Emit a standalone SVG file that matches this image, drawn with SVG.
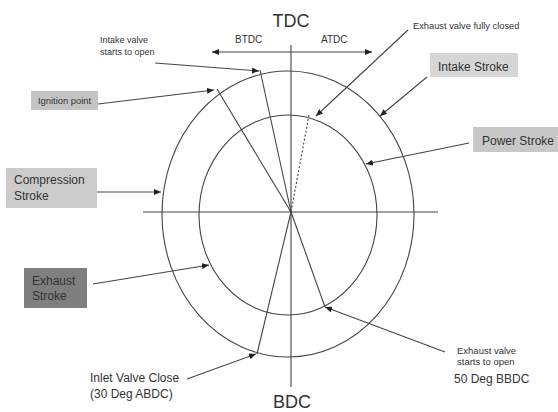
<svg xmlns="http://www.w3.org/2000/svg" width="558" height="412" viewBox="0 0 558 412">
<defs>
<marker id="ah" markerUnits="userSpaceOnUse" markerWidth="8" markerHeight="6" refX="7" refY="3" orient="auto">
<path d="M0,0 L7,3 L0,6 z" fill="#222"/>
</marker>
<marker id="ahs" markerUnits="userSpaceOnUse" markerWidth="8" markerHeight="6" refX="1" refY="3" orient="auto">
<path d="M8,0 L1,3 L8,6 z" fill="#222"/>
</marker>
<style>
.ln{stroke:#444;stroke-width:1.1;fill:none}
.ar{stroke:#444;stroke-width:1.1;fill:none;marker-end:url(#ah)}
.t{font-family:"Liberation Sans",Arial,sans-serif;fill:#333}
.box{stroke:none}
</style>
</defs>
<rect width="558" height="412" fill="#fff"/>

<g id="diagram">
<ellipse class="ln" cx="288" cy="214" rx="126" ry="143"/>
<ellipse class="ln" cx="288" cy="215" rx="89" ry="100"/>
<line class="ln" x1="143" y1="212" x2="438" y2="212"/>
<line class="ln" x1="291" y1="45" x2="291" y2="387"/>
</g>

<g id="radials">
<line class="ln" x1="260" y1="70" x2="291" y2="212"/>
<line class="ln" x1="217" y1="89" x2="291" y2="212"/>
<line class="ln" x1="291" y1="212" x2="257" y2="354"/>
<line class="ln" x1="291" y1="212" x2="325" y2="307"/>
<line class="ln" x1="309" y1="115" x2="291" y2="212" stroke-dasharray="2,2"/>
</g>

<g id="tdc">
<text class="t" x="291" y="27" font-size="18" text-anchor="middle" fill="#222">TDC</text>
<text class="t" x="235" y="43" font-size="10" fill="#444">BTDC</text>
<text class="t" x="321" y="43" font-size="10" fill="#444">ATDC</text>
<line class="ln" x1="212" y1="52" x2="372" y2="52" marker-start="url(#ahs)" marker-end="url(#ah)"/>
</g>

<g id="bdc">
<text class="t" x="292" y="408" font-size="18" text-anchor="middle" fill="#222">BDC</text>
</g>

<g id="intake-valve-open">
<text class="t" x="100" y="43" font-size="9" fill="#444">Intake valve</text>
<text class="t" x="100" y="55" font-size="9" fill="#444">starts to open</text>
</g>

<g id="exhaust-valve-closed">
<text class="t" x="413" y="29" font-size="9.3" fill="#444">Exhaust valve fully closed</text>
</g>

<g id="ignition-point">
<rect class="box" x="31" y="91" width="67" height="19" fill="#c4c4c4"/>
<text class="t" x="38" y="104" font-size="9.4" fill="#444">Ignition point</text>
</g>

<g id="intake-stroke">
<rect class="box" x="430" y="53" width="88" height="24" fill="#d6d6d6"/>
<text class="t" x="438" y="71" font-size="12" fill="#555">Intake Stroke</text>
</g>

<g id="power-stroke">
<rect class="box" x="473" y="127" width="85" height="25" fill="#c8c8c8"/>
<text class="t" x="482" y="145" font-size="12" fill="#555">Power Stroke</text>
</g>

<g id="compression-stroke">
<rect class="box" x="6" y="168" width="91" height="40" fill="#cbcbcb"/>
<text class="t" x="14" y="184" font-size="12" fill="#666">Compression</text>
<text class="t" x="14" y="200" font-size="12" fill="#666">Stroke</text>
</g>

<g id="exhaust-stroke">
<rect class="box" x="24" y="268" width="63" height="40" fill="#7f7f7f"/>
<text class="t" x="32" y="285" font-size="12" fill="#333">Exhaust</text>
<text class="t" x="32" y="300" font-size="12" fill="#333">Stroke</text>
</g>

<g id="inlet-valve-close">
<text class="t" x="90" y="382" font-size="12" fill="#222">Inlet Valve Close</text>
<text class="t" x="90" y="398" font-size="12" fill="#222">(30 Deg ABDC)</text>
</g>

<g id="exhaust-valve-open">
<text class="t" x="457" y="354" font-size="9.5" fill="#444">Exhaust valve</text>
<text class="t" x="457" y="365" font-size="9.5" fill="#444">starts to open</text>
<text class="t" x="454" y="383" font-size="12" fill="#222">50 Deg BBDC</text>
</g>

<g id="connectors">
<line class="ar" x1="155" y1="63" x2="259" y2="71"/>
<line class="ar" x1="98" y1="104" x2="214" y2="90"/>
<line class="ar" x1="408" y1="30" x2="316" y2="116"/>
<line class="ar" x1="427" y1="77" x2="380" y2="116"/>
<line class="ar" x1="469" y1="143" x2="366" y2="164"/>
<line class="ar" x1="97" y1="192" x2="161" y2="192"/>
<line class="ar" x1="93" y1="284" x2="209" y2="265"/>
<line class="ar" x1="187" y1="379" x2="256" y2="354"/>
<line class="ar" x1="445" y1="352" x2="325" y2="307"/>
</g>
</svg>
